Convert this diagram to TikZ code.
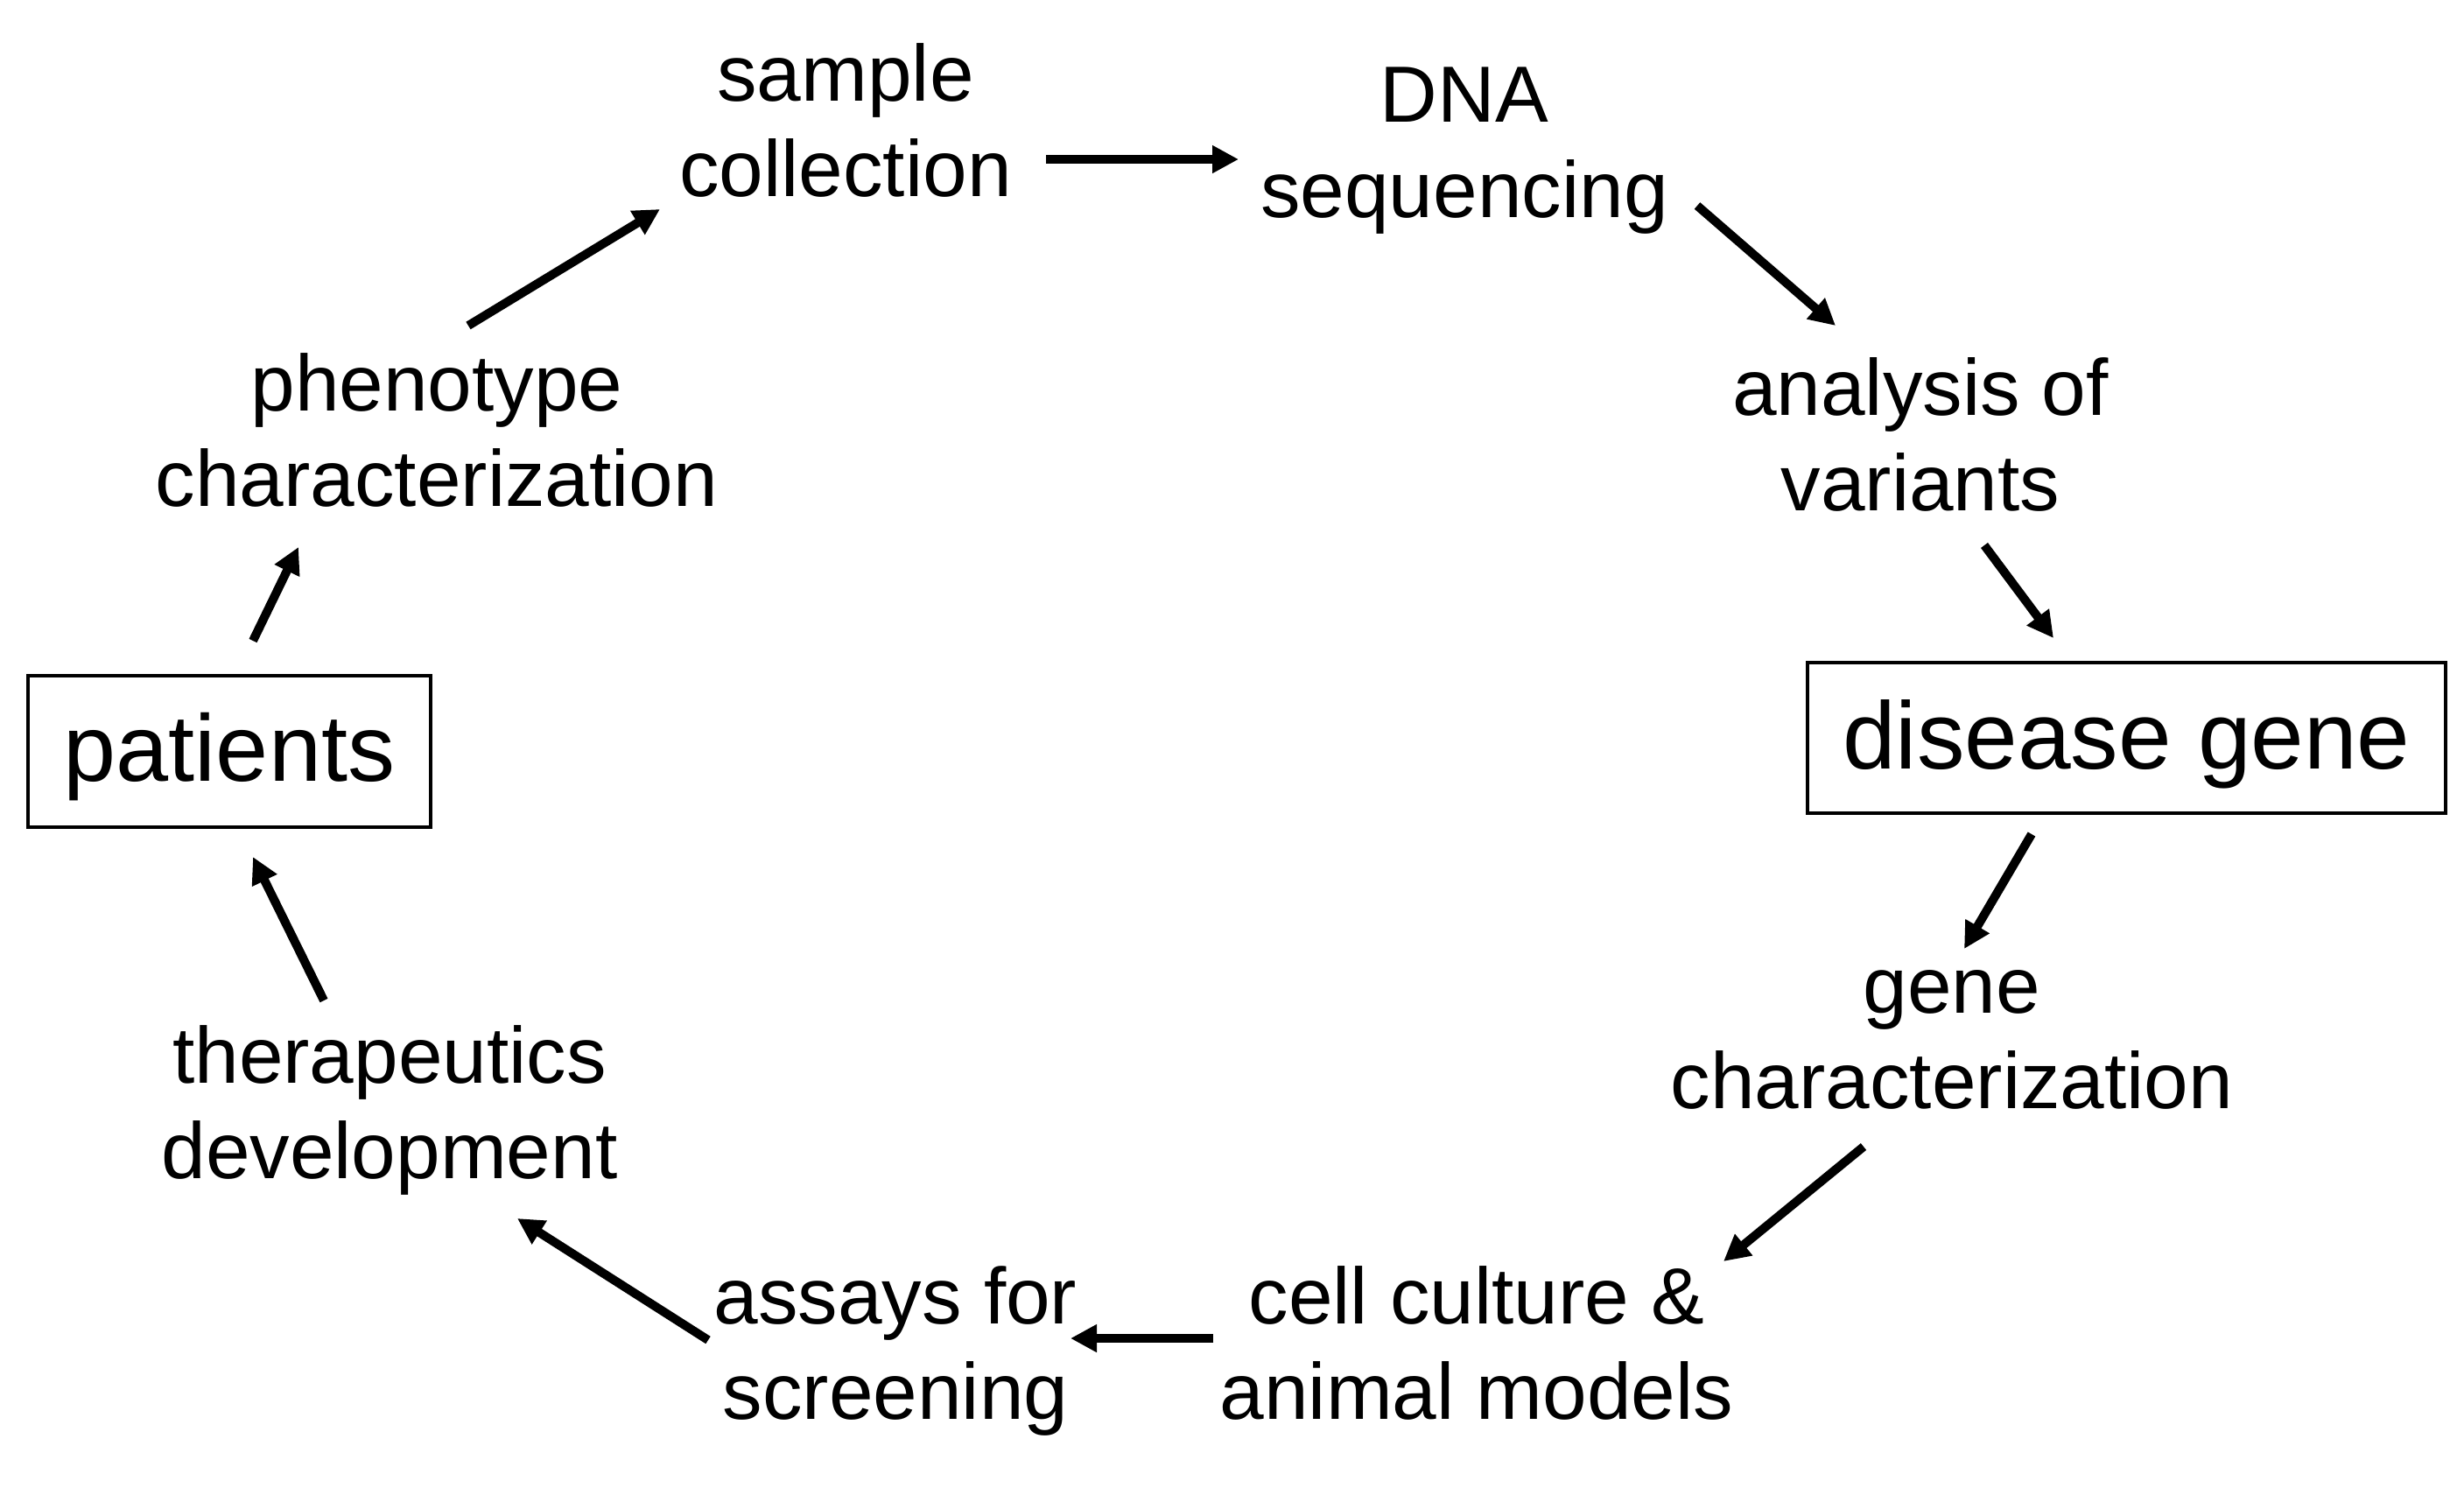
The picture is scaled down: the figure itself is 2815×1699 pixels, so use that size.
\documentclass[tikz,border=0pt]{standalone}
\usepackage{fontspec}
\setmainfont{Liberation Sans}
\usetikzlibrary{arrows.meta}
\begin{document}
\begin{tikzpicture}[x=0.5pt,y=-0.5pt]
\tikzset{
  lbl/.style={align=center, anchor=base, inner sep=0pt, font=\fontsize{45.5}{54.5}\selectfont},
  boxnode/.style={draw, line width=2.25pt, inner sep=0pt},
  arr/.style={line width=5pt, -{Triangle[length=15pt,width=15pt]}},
}
\path[use as bounding box] (0,0) rectangle (2815,1699);

\node[lbl] (sample) at (966,224) {sample\\collection};
\node[lbl] (dna) at (1673,248) {DNA\\sequencing};
\node[lbl] (analysis) at (2194,583) {analysis of\\variants};
\node[boxnode, minimum width=364.5pt, minimum height=86pt, text height=42pt, text depth=7pt,
      font=\fontsize{54.5}{60}\selectfont] (disease) at (2429.5,843) {disease gene};
\node[lbl] (genechar) at (2230,1266) {gene\\characterization};
\node[lbl] (cellc) at (1687,1621) {cell culture \&\\animal models};
\node[lbl] (assays) at (1023,1621) {assays for\\screening};
\node[lbl] (thera) at (445,1346) {therapeutics\\development};
\node[boxnode, minimum width=230pt, minimum height=86.5pt, text height=40pt, text depth=6.5pt,
      font=\fontsize{54}{60}\selectfont] (patients) at (262,858.5) {patients};
\node[lbl] (pheno) at (499,578) {phenotype\\characterization};

\draw[arr] ([shift={(229,-42)}]sample.base) -- ([shift={(-258,-66)}]dna.base);
\draw[arr] ([shift={(266,-13)}]dna.base) -- ([shift={(-97,-211)}]analysis.base);
\draw[arr] ([shift={(73,40)}]analysis.base) -- ([shift={(-83.5,-114)}]disease.center);
\draw[arr] ([shift={(-108.5,110)}]disease.center) -- ([shift={(14,-182)}]genechar.base);
\draw[arr] ([shift={(-101,44)}]genechar.base) -- ([shift={(282,-180)}]cellc.base);
\draw[arr] ([shift={(-301,-92)}]cellc.base) -- ([shift={(200,-92)}]assays.base);
\draw[arr] ([shift={(-214,-90)}]assays.base) -- ([shift={(146,46)}]thera.base);
\draw[arr] ([shift={(-75,-203)}]thera.base) -- ([shift={(27,120.5)}]patients.center);
\draw[arr] ([shift={(27,-126.5)}]patients.center) -- ([shift={(-158,47)}]pheno.base);
\draw[arr] ([shift={(36,-206)}]pheno.base) -- ([shift={(-212,15)}]sample.base);
\end{tikzpicture}
\end{document}
